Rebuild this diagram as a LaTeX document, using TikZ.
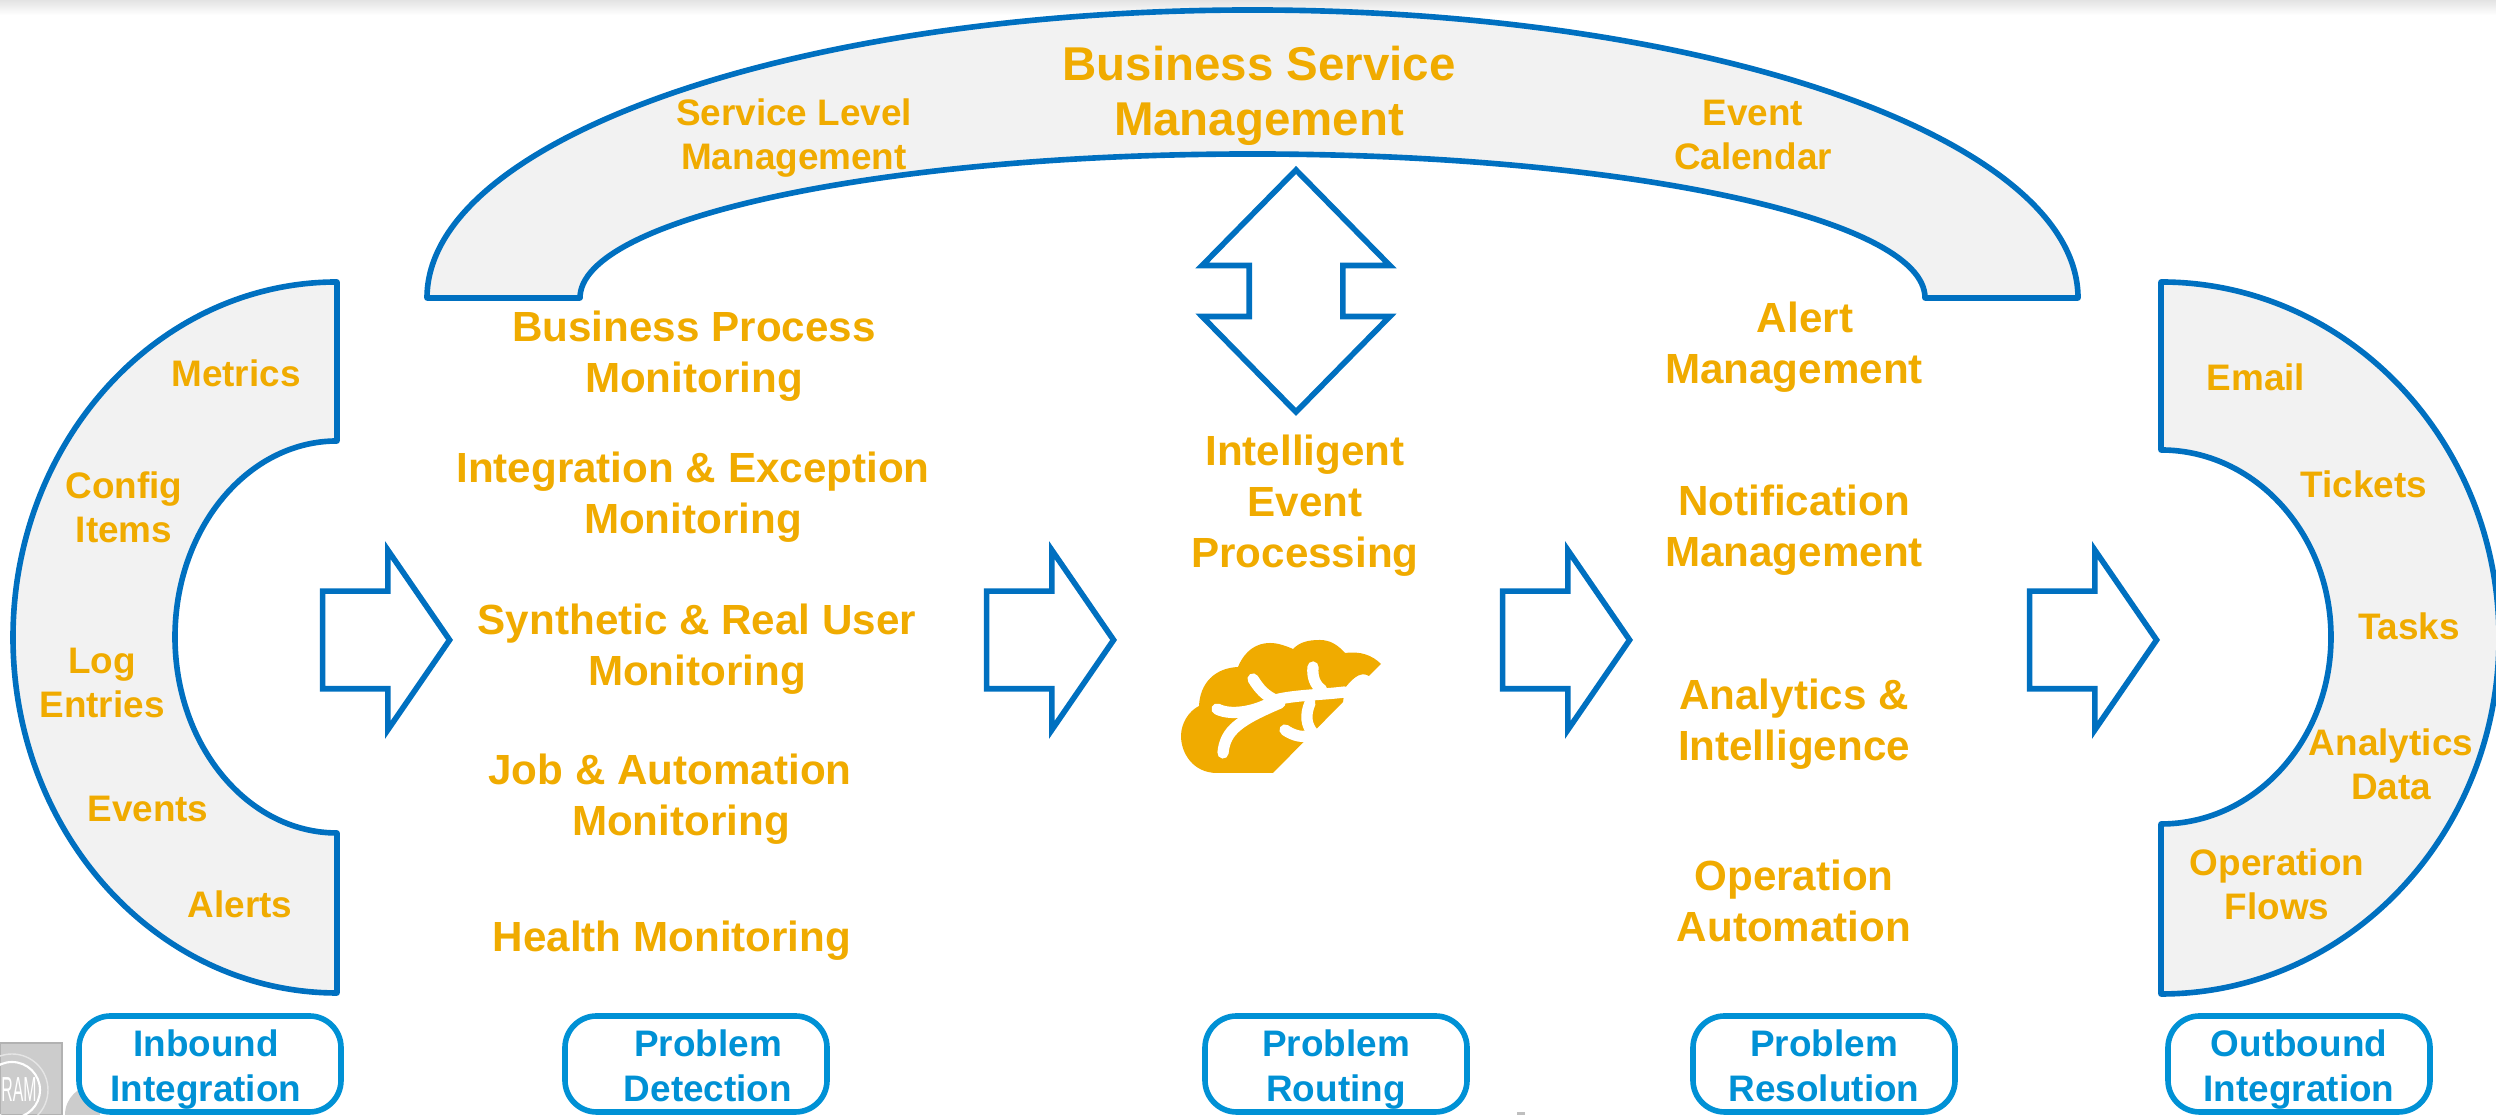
\documentclass[tikz,border=0pt]{standalone}
\usepackage{fontspec}
\setmainfont{Liberation Sans}
\usepackage{xcolor}
\usetikzlibrary{arrows.meta,positioning,shapes.arrows}

\definecolor{lineblue}{HTML}{0070C0}
\definecolor{boxblue}{HTML}{0091D5}
\definecolor{labelorange}{HTML}{F0AB00}
\definecolor{bandgray}{HTML}{F2F2F2}

\begin{document}
\begin{tikzpicture}[
    band/.style={draw=lineblue, fill=bandgray, line width=1.6pt, line join=round},
    % Text styles
    biglabel/.style={text=labelorange, font=\fontsize{13.5}{15.5}\selectfont\bfseries, align=center},
    steplabel/.style={text=labelorange, font=\fontsize{12}{14.5}\selectfont\bfseries, align=center},
    smalllabel/.style={text=labelorange, font=\fontsize{10.5}{12.5}\selectfont\bfseries, align=center},
    % Brain branches
    branch/.style={white, line width=3.2pt, line cap=round},
    % Arrows and stage boxes
    flowarrow/.style={single arrow, draw=lineblue, fill=white, line width=1.6pt, inner sep=0pt,
        text height=0.92cm, text depth=0pt, text width=0.1cm,
        minimum height=1.27cm, single arrow head extend=0.41cm,
        single arrow tip angle=111, anchor=tip},
    updownarrow/.style={double arrow, draw=lineblue, fill=white, line width=1.6pt, inner sep=0pt,
        text width=0.88cm, text height=0.1cm, text depth=0pt,
        minimum height=2.42cm, double arrow head extend=0.47cm,
        double arrow tip angle=89, shape border rotate=90},
    stagebox/.style={draw=boxblue, fill=white, line width=1.6pt, rounded corners=9pt, inner sep=0pt,
        minimum width=2.62cm, minimum height=0.96cm, text=boxblue, align=center,
        text height=0.85cm, text depth=0.10cm,
        font=\fontsize{10.5}{12.8}\selectfont\bfseries},
    ]
    \useasboundingbox (0,0) rectangle (24.96,11.15);

    % Shadow along the top edge
    \fill[top color=gray!22, bottom color=white] (0,11.15) rectangle (24.96,11.00);

    % Grey stamp in the corner
    \fill[black!20] (0.65,0) arc[start angle=180, end angle=90, radius=0.3] -- (1.0,0) -- cycle;
    \fill[black!20, draw=black!30] (0,0) rectangle (0.62,0.72);
    \begin{scope}
        \clip (0,0) rectangle (0.62,0.72);
        \draw[white, line width=0.6pt] (0.12,0.25) circle[radius=0.28];
        \draw[black!10, line width=0.4pt] (0.12,0.25) circle[radius=0.36];
    \end{scope}
    \node[text=white, font=\fontsize{4.5}{5}\selectfont, inner sep=0pt, yscale=2.2] (stamp) at (0.19,0.25) {RAM};
    \fill[black!25] (15.17,0) rectangle (15.25,0.03);

    % Arch on top
    \draw[band] (4.27,8.17) arc[start angle=180, end angle=0, x radius=8.255, y radius=2.88]
        -- (19.25,8.17) arc[start angle=0, end angle=180, x radius=6.725, y radius=1.44] -- cycle;

    % Left and right bands
    \draw[band] (3.37,8.33) arc[start angle=90, end angle=270, x radius=3.24, y radius=3.555]
        -- (3.37,2.82) arc[start angle=270, end angle=90, x radius=1.62, y radius=1.96] -- cycle;
    \draw[band] (21.61,8.33) arc[start angle=90, end angle=-90, x radius=3.38, y radius=3.56]
        -- (21.61,2.91) arc[start angle=-90, end angle=90, x radius=1.70, y radius=1.87] -- cycle;

    % Block arrows
    \node[flowarrow] (arrow1) at (4.53,4.75) {};
    \node[flowarrow] (arrow2) at (11.17,4.75) {};
    \node[flowarrow] (arrow3) at (16.33,4.75) {};
    \node[flowarrow] (arrow4) at (21.60,4.75) {};
    \node[updownarrow] (updown) at (12.96,8.24) {};

    % Arch labels
    \node[biglabel] (bsm) at (12.59,10.19) {Business Service\\Management};
    \node[smalllabel] (slm) at (7.94,9.77) {Service Level\\Management};
    \node[smalllabel] (calendar) at (17.53,9.80) {Event\\Calendar};

    % Inbound labels
    \node[smalllabel] (metrics) at (2.36,7.42) {Metrics};
    \node[smalllabel] (config) at (1.24,6.08) {Config\\Items};
    \node[smalllabel] (logs) at (1.02,4.32) {Log\\Entries};
    \node[smalllabel] (events) at (1.48,3.06) {Events};
    \node[smalllabel] (alerts) at (2.40,2.11) {Alerts};

    % Detection column
    \node[steplabel] (bpm) at (6.94,7.59) {Business Process\\Monitoring};
    \node[steplabel] (iem) at (6.93,6.18) {Integration \& Exception\\Monitoring};
    \node[steplabel] (rum) at (6.97,4.66) {Synthetic \& Real User\\Monitoring};
    \node[steplabel] (jam) at (6.70,3.16) {Job \& Automation\\\hspace*{0.22cm}Monitoring};
    \node[steplabel] (health) at (6.72,1.74) {Health Monitoring};

    % Routing column
    \node[steplabel] (iep) at (13.05,6.09) {Intelligent\\Event\\Processing};

    % Brain picture
    \fill[labelorange] (12.73,3.42) -- (12.17,3.42)
        .. controls (11.93,3.42) and (11.81,3.62) .. (11.81,3.79)
        .. controls (11.81,3.92) and (11.89,4.04) .. (11.99,4.09)
        .. controls (12.00,4.32) and (12.15,4.47) .. (12.38,4.48)
        .. controls (12.45,4.65) and (12.57,4.72) .. (12.70,4.72)
        .. controls (12.78,4.72) and (12.86,4.69) .. (12.93,4.66)
        .. controls (13.00,4.73) and (13.08,4.75) .. (13.20,4.75)
        .. controls (13.30,4.75) and (13.38,4.70) .. (13.45,4.62)
        .. controls (13.60,4.64) and (13.72,4.60) .. (13.81,4.51)
        -- (13.69,4.39)
        .. controls (13.62,4.43) and (13.55,4.40) .. (13.45,4.27)
        -- (13.43,4.13) -- cycle;
    \draw[branch] (12.17,4.06) .. controls (12.33,3.98) and (12.60,4.05) .. (12.75,4.15)
        .. controls (12.95,4.20) and (13.20,4.20) .. (13.45,4.23);
    \draw[branch] (12.53,4.36) .. controls (12.60,4.25) and (12.65,4.20) .. (12.75,4.15);
    \draw[branch] (12.23,3.62) .. controls (12.25,3.85) and (12.40,3.95) .. (12.80,4.12);
    \draw[branch] (13.13,4.48) .. controls (13.12,4.38) and (13.15,4.30) .. (13.22,4.25);
    \draw[branch] (13.10,4.12) .. controls (13.05,4.00) and (13.06,3.90) .. (13.13,3.82);
    \draw[branch] (12.85,3.85) .. controls (12.92,3.80) and (13.05,3.75) .. (13.13,3.82);

    % Resolution column
    \node[steplabel] (alertm) at (17.94,7.68) {\hspace*{0.22cm}Alert\\Management};
    \node[steplabel] (notifm) at (17.94,5.85) {Notification\\Management};
    \node[steplabel] (analytics) at (17.94,3.91) {Analytics \&\\Intelligence};
    \node[steplabel] (opauto) at (17.94,2.14) {Operation\\Automation};

    % Outbound labels
    \node[smalllabel] (email) at (22.56,7.38) {Email};
    \node[smalllabel] (tickets) at (23.64,6.31) {Tickets};
    \node[smalllabel] (tasks) at (24.09,4.89) {Tasks};
    \node[smalllabel] (adata) at (23.91,3.51) {Analytics\\Data};
    \node[smalllabel] (flows) at (22.77,2.31) {Operation\\Flows};

    % Stage boxes along the bottom
    \node[stagebox] (inbound) at (2.10,0.51) {Inbound\hspace*{0.08cm}\\Integration\hspace*{0.08cm}};
    \node[stagebox] (detection) at (6.96,0.51) {\hspace*{0.24cm}Problem\\\hspace*{0.24cm}Detection};
    \node[stagebox] (routing) at (13.36,0.51) {Problem\\Routing};
    \node[stagebox] (resolution) at (18.24,0.51) {Problem\\Resolution};
    \node[stagebox] (outbound) at (22.99,0.51) {Outbound\\Integration};
\end{tikzpicture}
\end{document}
